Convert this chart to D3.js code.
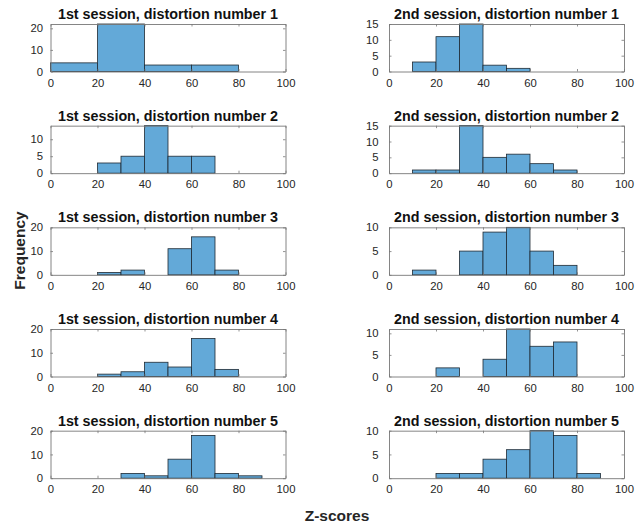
<!DOCTYPE html>
<html>
<head>
<meta charset="utf-8">
<script src="https://cdn.jsdelivr.net/npm/d3@7"></script>
<style>
  body { margin: 0; background: #fff; }
  text { font-family: "Liberation Sans", Arial, Helvetica, sans-serif; }
</style>
</head>
<body>
<svg width="635" height="524"></svg>
<script>
// panel titles, column 1 = 1st session, column 2 = 2nd session
let titles1 = ["1st session, distortion number 1", "1st session, distortion number 2", "1st session, distortion number 3",
               "1st session, distortion number 4", "1st session, distortion number 5"];
let titles2 = ["2nd session, distortion number 1", "2nd session, distortion number 2", "2nd session, distortion number 3",
               "2nd session, distortion number 4", "2nd session, distortion number 5"];

// bin edges for each histogram
let edges1 = [
    [0, 20, 40, 60, 80],
    [20, 30, 40, 50, 60, 70],
    [20, 30, 40, 50, 60, 70, 80],
    [20, 30, 40, 50, 60, 70, 80],
    [30, 40, 50, 60, 70, 80, 90]
];
let edges2 = [
    [10, 20, 30, 40, 50, 60],
    [10, 20, 30, 40, 50, 60, 70, 80],
    [10, 20, 30, 40, 50, 60, 70, 80],
    [20, 30, 40, 50, 60, 70, 80],
    [20, 30, 40, 50, 60, 70, 80, 90]
];

// counts per bin
let counts1 = [
    [4, 22, 3, 3],
    [3, 5, 14, 5, 5],
    [1, 2, 0, 11, 16, 2],
    [1, 2, 6, 4, 16, 3],
    [2, 1, 8, 18, 2, 1]
];
let counts2 = [
    [3, 11, 15, 2, 1],
    [1, 1, 15, 5, 6, 3, 1],
    [1, 0, 5, 9, 10, 5, 2],
    [2, 0, 4, 11, 7, 8],
    [1, 1, 4, 6, 10, 9, 1]
];

// y limits and ticks
let yMax1 = [22, 14, 20, 20, 20];
let yMax2 = [15, 15, 10, 11, 10];
let yTicks1 = [[0, 10, 20], [0, 5, 10], [0, 10, 20], [0, 10, 20], [0, 10, 20]];
let yTicks2 = [[0, 5, 10, 15], [0, 5, 10, 15], [0, 5, 10], [0, 5, 10], [0, 5, 10]];

let xTicks = [0, 20, 40, 60, 80, 100];

let svg = d3.select("svg");

let cols = [
    {x0: 50.5, x1: 285.5, titles: titles1, edges: edges1, counts: counts1, yMax: yMax1, yTicks: yTicks1, gap: 5},
    {x0: 389, x1: 624, titles: titles2, edges: edges2, counts: counts2, yMax: yMax2, yTicks: yTicks2, gap: 8}
];
let rowH = 47.5;

cols.forEach(col => {
    col.titles.forEach((title, i) => {
        let top = 24 + i * 101.67;
        let x = d3.scaleLinear().domain([0, 100]).range([col.x0, col.x1]);
        let y = d3.scaleLinear().domain([0, col.yMax[i]]).range([top + rowH, top]);
        let g = svg.append("g");

        // bars
        let bins = col.counts[i].map((c, k) => ({lo: col.edges[i][k], hi: col.edges[i][k + 1], c: c}))
            .filter(b => b.c > 0);
        g.selectAll("rect").data(bins).join("rect")
            .attr("x", d => x(d.lo))
            .attr("width", d => x(d.hi) - x(d.lo))
            .attr("y", d => y(Math.min(d.c, col.yMax[i])))
            .attr("height", d => y(0) - y(Math.min(d.c, col.yMax[i])))
            .attr("fill", "#63a9d8")
            .attr("stroke", "#1f2a33")
            .attr("stroke-width", 0.8);

        // axes (ticks inside, box on)
        let axB = d3.axisBottom(x).tickValues(xTicks).tickSizeInner(-2.5).tickSizeOuter(0).tickPadding(7);
        let axL = d3.axisLeft(y).tickValues(col.yTicks[i]).tickSizeInner(-2.5).tickSizeOuter(0).tickPadding(col.gap + 2.5);
        let axT = d3.axisTop(x).tickValues(xTicks).tickSizeInner(-2.5).tickSizeOuter(0).tickFormat("");
        let axR = d3.axisRight(y).tickValues(col.yTicks[i]).tickSizeInner(-2.5).tickSizeOuter(0).tickFormat("");

        [[axB, `translate(0,${top + rowH})`], [axL, `translate(${col.x0},0)`],
         [axT, `translate(0,${top})`], [axR, `translate(${col.x1},0)`]].forEach(([ax, tr]) => {
            let a = g.append("g").attr("transform", tr).call(ax);
            a.select(".domain").attr("stroke", "#777").attr("stroke-width", 0.9);
            a.selectAll(".tick line").attr("stroke", "#777").attr("stroke-width", 0.8);
            a.selectAll(".tick text").attr("fill", "#262626").style("font-size", "11.3px");
        });

        g.append("text")
            .attr("x", (col.x0 + col.x1) / 2)
            .attr("y", top - 5)
            .attr("text-anchor", "middle")
            .style("font-size", "14.3px")
            .style("font-weight", "bold")
            .attr("fill", "#111")
            .text(title);
    });
});

svg.append("text")
    .attr("transform", "translate(25,250.5) rotate(-90)")
    .attr("text-anchor", "middle")
    .style("font-size", "15.5px")
    .style("font-weight", "bold")
    .attr("fill", "#262626")
    .text("Frequency");

svg.append("text")
    .attr("x", 337)
    .attr("y", 521)
    .attr("text-anchor", "middle")
    .style("font-size", "15.5px")
    .style("font-weight", "bold")
    .attr("fill", "#262626")
    .text("Z-scores");
</script>
</body>
</html>
